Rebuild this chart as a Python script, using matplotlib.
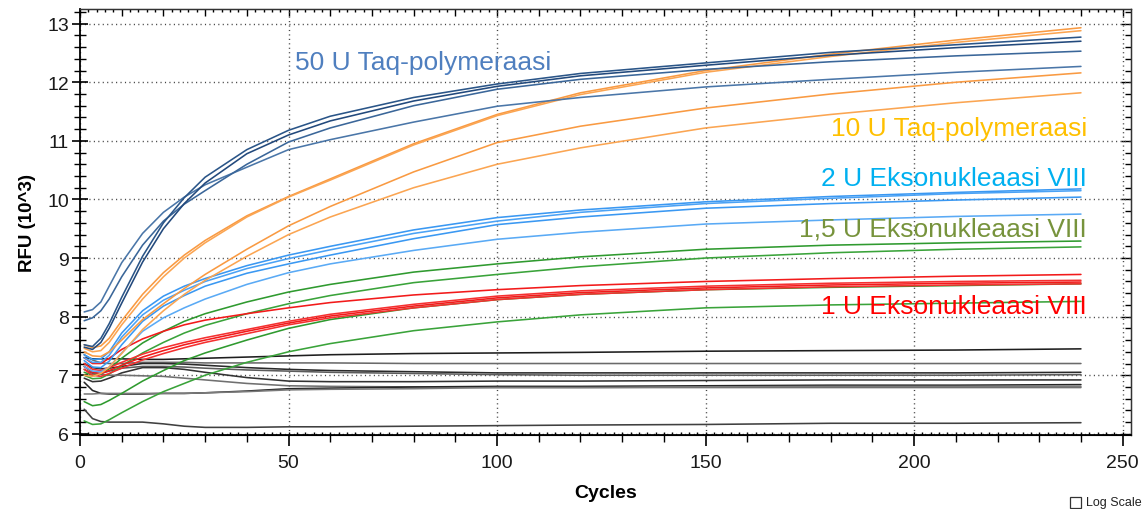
import matplotlib
matplotlib.use("Agg")
import matplotlib.pyplot as plt
from matplotlib.patches import Rectangle
import numpy as np

plt.rcParams['font.family'] = ['Liberation Sans', 'DejaVu Sans']

# sample cycles shared by every trace
cycles = [1, 3, 5, 7, 10, 15, 20, 25, 30, 40, 50, 60, 80, 100, 120, 150, 180, 210, 240]

# RFU (x10^3) per trace
taq50 = [
    [8.08, 8.12, 8.25, 8.52, 8.92, 9.42, 9.78, 10.04, 10.25, 10.55, 10.85, 11.02, 11.32, 11.59, 11.74, 11.92, 12.05, 12.17, 12.27],
    [7.93, 7.98, 8.10, 8.30, 8.68, 9.22, 9.63, 9.92, 10.15, 10.60, 10.98, 11.22, 11.60, 11.88, 12.05, 12.22, 12.35, 12.45, 12.53],
    [7.52, 7.49, 7.63, 7.88, 8.33, 9.03, 9.60, 10.03, 10.38, 10.85, 11.18, 11.42, 11.74, 11.97, 12.15, 12.33, 12.51, 12.64, 12.77],
    [7.48, 7.44, 7.56, 7.80, 8.23, 8.93, 9.50, 9.93, 10.28, 10.78, 11.10, 11.34, 11.68, 11.93, 12.11, 12.29, 12.46, 12.59, 12.70],
]
taq10 = [
    [7.52, 7.47, 7.50, 7.63, 7.93, 8.38, 8.75, 9.05, 9.30, 9.72, 10.05, 10.35, 10.95, 11.45, 11.82, 12.20, 12.48, 12.72, 12.93],
    [7.46, 7.40, 7.42, 7.56, 7.86, 8.30, 8.68, 9.00, 9.26, 9.70, 10.04, 10.33, 10.93, 11.43, 11.79, 12.17, 12.44, 12.68, 12.88],
    [7.40, 7.33, 7.32, 7.40, 7.60, 7.95, 8.22, 8.48, 8.72, 9.15, 9.55, 9.88, 10.47, 10.97, 11.25, 11.56, 11.80, 12.00, 12.16],
    [7.00, 6.98, 7.03, 7.14, 7.37, 7.78, 8.10, 8.38, 8.62, 9.03, 9.40, 9.70, 10.20, 10.60, 10.88, 11.22, 11.45, 11.65, 11.82],
]
exo2 = [
    [7.35, 7.27, 7.28, 7.40, 7.72, 8.10, 8.35, 8.52, 8.65, 8.87, 9.05, 9.20, 9.48, 9.69, 9.82, 9.96, 10.05, 10.12, 10.18],
    [7.30, 7.22, 7.22, 7.34, 7.65, 8.03, 8.28, 8.45, 8.60, 8.82, 8.99, 9.14, 9.42, 9.63, 9.78, 9.93, 10.02, 10.10, 10.15],
    [7.25, 7.14, 7.13, 7.24, 7.52, 7.92, 8.18, 8.36, 8.52, 8.74, 8.90, 9.05, 9.33, 9.57, 9.70, 9.85, 9.93, 9.99, 10.04],
    [7.15, 7.07, 7.06, 7.14, 7.38, 7.75, 7.98, 8.15, 8.30, 8.55, 8.75, 8.90, 9.13, 9.32, 9.44, 9.58, 9.65, 9.71, 9.75],
]
exo15 = [
    [7.05, 7.00, 7.02, 7.11, 7.29, 7.55, 7.75, 7.92, 8.05, 8.25, 8.42, 8.55, 8.76, 8.90, 9.02, 9.15, 9.22, 9.26, 9.29],
    [7.00, 6.94, 6.95, 7.02, 7.16, 7.38, 7.56, 7.72, 7.85, 8.05, 8.22, 8.36, 8.58, 8.72, 8.85, 9.00, 9.09, 9.15, 9.19],
    [6.55, 6.48, 6.50, 6.57, 6.69, 6.90, 7.08, 7.25, 7.38, 7.60, 7.80, 7.95, 8.15, 8.29, 8.38, 8.46, 8.50, 8.53, 8.56],
    [6.22, 6.16, 6.17, 6.24, 6.36, 6.55, 6.72, 6.86, 7.00, 7.22, 7.40, 7.54, 7.76, 7.91, 8.03, 8.15, 8.20, 8.23, 8.26],
]
exo1 = [
    [7.30, 7.20, 7.20, 7.29, 7.44, 7.62, 7.75, 7.86, 7.94, 8.05, 8.15, 8.24, 8.37, 8.46, 8.53, 8.60, 8.65, 8.69, 8.72],
    [7.20, 7.10, 7.08, 7.13, 7.22, 7.36, 7.47, 7.56, 7.64, 7.78, 7.92, 8.04, 8.21, 8.35, 8.44, 8.52, 8.57, 8.60, 8.62],
    [7.15, 7.05, 7.03, 7.08, 7.17, 7.31, 7.42, 7.52, 7.60, 7.75, 7.89, 8.01, 8.18, 8.32, 8.41, 8.49, 8.54, 8.57, 8.59],
    [7.10, 7.00, 6.98, 7.03, 7.12, 7.26, 7.37, 7.47, 7.56, 7.71, 7.86, 7.98, 8.15, 8.29, 8.38, 8.46, 8.51, 8.54, 8.56],
]
controls = [
    [7.30, 7.28, 7.28, 7.28, 7.28, 7.27, 7.27, 7.28, 7.29, 7.31, 7.33, 7.35, 7.37, 7.38, 7.39, 7.41, 7.42, 7.43, 7.45],
    [7.35, 7.26, 7.21, 7.20, 7.20, 7.22, 7.22, 7.22, 7.21, 7.21, 7.21, 7.21, 7.20, 7.20, 7.20, 7.20, 7.20, 7.20, 7.20],
    [7.20, 7.13, 7.11, 7.12, 7.15, 7.20, 7.20, 7.19, 7.17, 7.13, 7.10, 7.08, 7.06, 7.04, 7.04, 7.04, 7.04, 7.04, 7.05],
    [7.10, 7.03, 7.03, 7.07, 7.12, 7.15, 7.15, 7.14, 7.12, 7.09, 7.07, 7.05, 7.03, 7.01, 7.00, 7.00, 7.00, 7.00, 7.01],
    [6.95, 6.89, 6.90, 6.95, 7.04, 7.13, 7.13, 7.10, 7.05, 6.96, 6.90, 6.89, 6.89, 6.90, 6.90, 6.91, 6.92, 6.92, 6.92],
    [7.15, 7.06, 7.01, 7.00, 7.00, 6.99, 6.98, 6.95, 6.92, 6.86, 6.82, 6.81, 6.80, 6.79, 6.79, 6.79, 6.79, 6.79, 6.79],
    [6.88, 6.74, 6.69, 6.68, 6.68, 6.68, 6.69, 6.69, 6.70, 6.73, 6.77, 6.78, 6.80, 6.81, 6.81, 6.82, 6.83, 6.83, 6.84],
    [6.68, 6.68, 6.69, 6.69, 6.69, 6.69, 6.69, 6.69, 6.70, 6.72, 6.75, 6.76, 6.77, 6.79, 6.79, 6.80, 6.81, 6.81, 6.81],
    [6.42, 6.26, 6.21, 6.20, 6.20, 6.20, 6.17, 6.13, 6.11, 6.11, 6.12, 6.12, 6.13, 6.14, 6.15, 6.16, 6.18, 6.18, 6.19],
]

groups = [
    (controls, ['#1e1e1e', '#6a6a6a', '#2a2a2a', '#5c5c5c', '#333333', '#707070', '#262626', '#7a7a7a', '#404040']),
    (exo15, ['#2f9a2f', '#3aa33a', '#2f9a2f', '#3aa33a']),
    (exo1, ['#f21a1a', '#f53030', '#f21a1a', '#f53030']),
    (exo2, ['#3a98f2', '#4ba2f5', '#3a98f2', '#5aaaf5']),
    (taq10, ['#f99a42', '#fba552', '#f99a42', '#fba552']),
    (taq50, ['#4a76a8', '#3a6699', '#2a5588', '#22497c']),
]

labels = ['50 U Taq-polymeraasi', '10 U Taq-polymeraasi', '2 U Eksonukleaasi VIII',
          '1,5 U Eksonukleaasi VIII', '1 U Eksonukleaasi VIII']
label_colors = ['#4f7fbf', '#ffc000', '#00b0f0', '#77933c', '#ff0000']

fig = plt.figure(figsize=(11.42, 5.10), dpi=100)
ax = fig.add_axes([80/1142, 74/510, 1051/1142, 426/510])

for traces, cols in groups:
    for vals, c in zip(traces, cols):
        ax.plot(cycles, vals, color=c, lw=1.15, solid_capstyle='round', solid_joinstyle='round')

ax.set_xlim(0, 252)
ax.set_ylim(5.98, 13.25)
ax.set_xticks(np.arange(0, 251, 50))
ax.set_xticks(np.arange(0, 251, 10), minor=True)
ax.set_yticks(np.arange(6, 14, 1))
ax.set_yticks(np.arange(6, 13.25, 0.2), minor=True)
ax.grid(which='major', linestyle=(0, (0.8, 2.4)), color='#444444', lw=1.0)

ax.tick_params(axis='x', which='major', direction='out', length=8, width=1.2,
               labelsize=14, labelcolor='#1a1a1a', pad=6)
ax.tick_params(axis='x', which='minor', direction='out', length=5, width=1.0)
ax.tick_params(axis='y', which='major', direction='inout', length=12, width=1.2,
               labelsize=14, labelcolor='#1a1a1a', pad=2)
ax.tick_params(axis='y', which='minor', direction='inout', length=8, width=1.0)

# fine ticks along the other edges
sec_b = ax.secondary_xaxis('bottom')
sec_b.set_xticks(np.arange(0, 251, 2))
sec_b.tick_params(direction='in', length=2.5, width=1.0, labelbottom=False)
sec_t = ax.secondary_xaxis('top')
sec_t.set_xticks(np.arange(0, 251, 10))
sec_t.set_xticks(np.arange(0, 251, 2), minor=True)
sec_t.tick_params(which='major', direction='in', length=5, width=1.0, labeltop=False)
sec_t.tick_params(which='minor', direction='in', length=2, width=1.0)
sec_r = ax.secondary_yaxis('right')
sec_r.set_yticks(np.arange(6, 14, 1))
sec_r.set_yticks(np.arange(6, 13.25, 0.2), minor=True)
sec_r.tick_params(which='major', direction='in', length=7, width=1.0, labelright=False)
sec_r.tick_params(which='minor', direction='in', length=4, width=1.0)

for side in ['left', 'bottom']:
    ax.spines[side].set_linewidth(1.3)
for side in ['top', 'right']:
    ax.spines[side].set_linewidth(1.0)
    ax.spines[side].set_color('#333333')

ax.set_xlabel('Cycles', fontsize=14, fontweight='bold', labelpad=9)
ax.set_ylabel('RFU (10^3)', fontsize=13.5, fontweight='bold', labelpad=8)

ax.text(51.5, 12.35, labels[0], color=label_colors[0], fontsize=19, ha='left', va='center')
ax.text(241.5, 11.22, labels[1], color=label_colors[1], fontsize=19, ha='right', va='center')
ax.text(241.5, 10.37, labels[2], color=label_colors[2], fontsize=19, ha='right', va='center')
ax.text(241.5, 9.50, labels[3], color=label_colors[3], fontsize=19, ha='right', va='center')
ax.text(241.5, 8.18, labels[4], color=label_colors[4], fontsize=19, ha='right', va='center')

# "Log Scale" checkbox at the bottom right corner
fig.patches.append(Rectangle((1070/1142, 1/510), 11/1142, 11/510, transform=fig.transFigure,
                             fill=False, edgecolor='#333333', lw=0.9))
fig.text(1086/1142, 7/510, 'Log Scale', fontsize=9, color='#222222', va='center', ha='left')

fig.savefig('out.png', dpi=100)
